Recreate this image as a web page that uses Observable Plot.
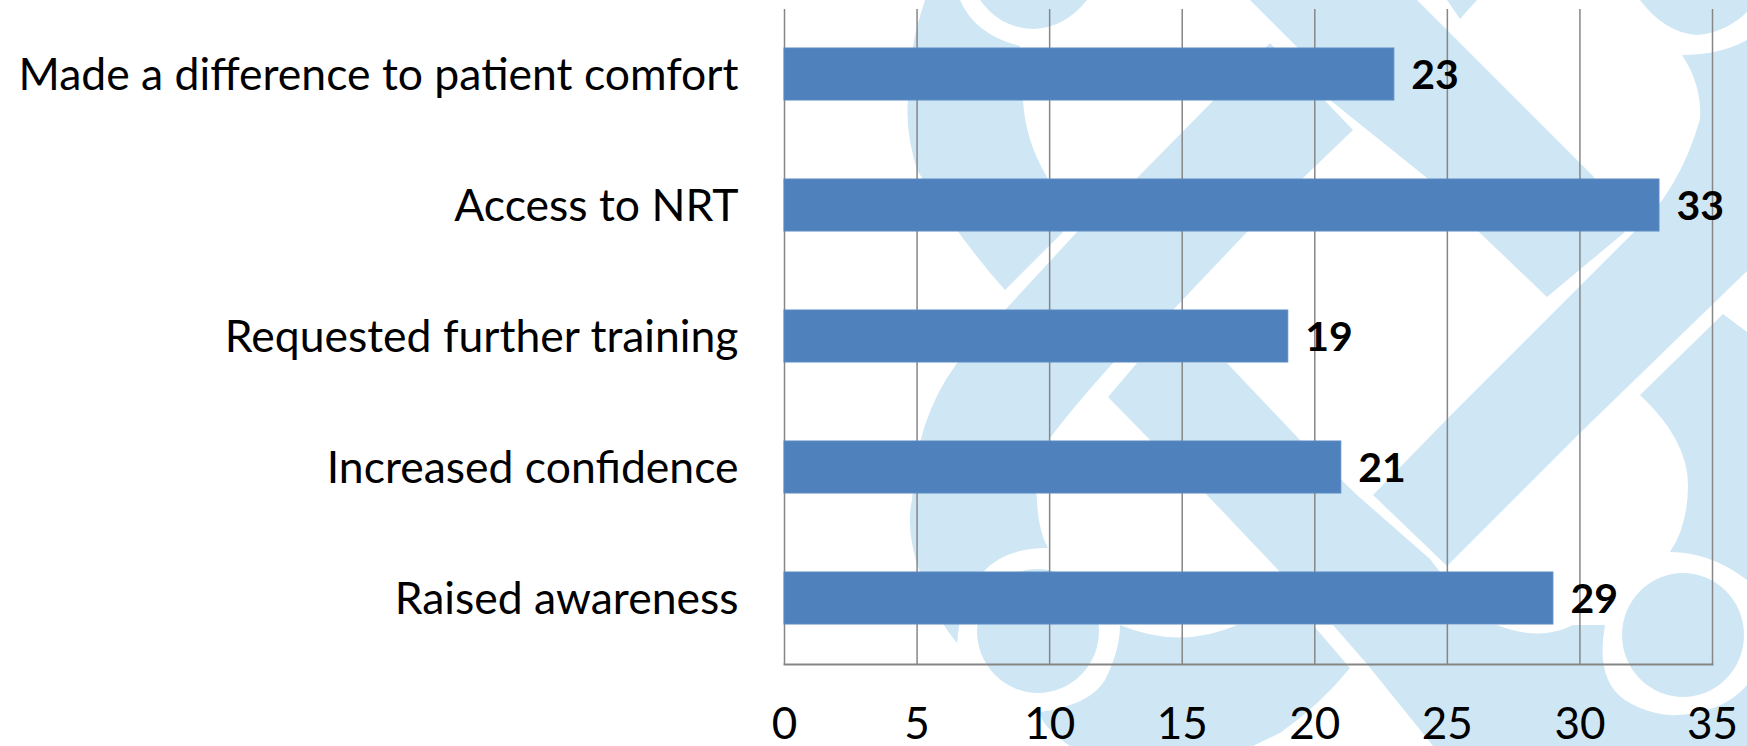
<!DOCTYPE html>
<html>
<head>
<meta charset="utf-8">
<script src="https://cdn.jsdelivr.net/npm/d3@7"></script>
<script src="https://cdn.jsdelivr.net/npm/@observablehq/plot@0.6"></script>
<style>
  html, body { margin: 0; padding: 0; background: #fff; overflow: hidden; }
  #stage { position: relative; width: 1747px; height: 746px; }
  #watermark, #chart { position: absolute; left: 0; top: 0; }
  #chart svg { display: block; background: transparent; }
</style>
</head>
<body>
<div id="stage">
  <!-- decorative background logo, not data -->
  <svg id="watermark" width="1747" height="746" viewBox="0 0 1747 746">
    <g fill="#cfe7f5">
      <path d="M925,0 L960,0 Q975,35 1020,46 L1023,100 Q1025,140 1047,177 L1063,232 L1005,290 Q960,240 917,170 Q905,130 908,100 Q908,50 925,0Z"/>
      <path d="M980,0 Q1000,28 1033,29 Q1065,28 1087,0Z"/>
      <path d="M1270,43 L1353,130 L1247,232 L1173,310 L1113,363 Q1075,405 1050,438 Q1032,470 1037,500 Q1038,530 1048,548 Q1005,548 983,572 Q960,600 957,643 Q930,610 920,573 Q905,530 912,500 Q915,420 957,363 L1005,310 L1077,232 L1137,178Z"/>
      <path d="M1250,0 L1417,0 L1593,176 L1625,232 L1547,297 L1480,233 L1427,178 L1330,100 L1297,47Z"/>
      <path d="M1447,0 L1477,0 L1460,19Z"/>
      <path d="M1640,0 Q1665,33 1697,35 Q1725,33 1747,12 L1747,0Z"/>
      <path d="M1633,233 Q1680,190 1700,119 Q1702,85 1682,55 Q1720,55 1747,40 L1747,271 L1580,433 L1447,566 L1373,495 L1447,419Z"/>
      <path d="M1723,314 L1747,332 L1747,580 Q1710,552 1670,552 Q1688,525 1688,485 Q1688,440 1640,395Z"/>
      <path d="M1108,397 L1137,363 L1227,363 L1300,440 L1357,495 L1430,559 L1440,572 L1280,572 L1207,495 L1150,440Z"/>
      <path d="M1120,625 Q1180,650 1237,625 L1313,625 L1350,668 Q1320,705 1280,733 L1253,746 L1070,746 Q1040,725 1040,712 Q1090,705 1105,680 Q1120,650 1120,625Z"/>
      <path d="M1333,625 L1497,625 Q1540,642 1573,625 L1605,625 Q1595,680 1625,700 Q1660,722 1700,712 Q1730,705 1747,685 L1747,746 L1433,746 L1367,664Z"/>
      <ellipse cx="1038" cy="631" rx="61" ry="62"/>
      <ellipse cx="1683" cy="635" rx="61" ry="62"/>
    </g>
  </svg>
  <div id="chart"></div>
</div>
<script>
const categories = ["Made a difference to patient comfort", "Access to NRT", "Requested further training", "Increased confidence", "Raised awareness"];
const counts = [23, 33, 19, 21, 29];
const xTicks = [0, 5, 10, 15, 20, 25, 30, 35];
const rows = categories.map((name, i) => ({name, count: counts[i]}));

const chart = Plot.plot({
  width: 1747,
  height: 746,
  marginLeft: 784,
  marginRight: 35,
  marginTop: 9,
  marginBottom: 82,
  style: {fontFamily: "Lato, Carlito, sans-serif", color: "#000", background: "transparent", overflow: "visible"},
  x: {domain: [0, 35], ticks: xTicks},
  y: {domain: categories, paddingInner: 0.6, paddingOuter: 0.3},
  marks: [
    Plot.ruleX(xTicks, {stroke: "#868686", strokeWidth: 1.5}),
    Plot.frame({anchor: "bottom", stroke: "#868686", strokeWidth: 2}),
    Plot.barX(rows, {y: "name", x: "count", fill: "#4f81bd", stroke: "#5b8ac2", strokeWidth: 1}),
    Plot.text(rows, {y: "name", x: "count", text: d => String(d.count), textAnchor: "start", dx: 17, dy: 1, fontSize: 41, fontWeight: 700, fill: "#000"}),
    Plot.axisY({anchor: "left", tickSize: 0, tickPadding: 46, fontSize: 44.5, dy: 1, label: null, tickFormat: d => d, fill: "#000"}),
    Plot.axisX(xTicks, {anchor: "bottom", tickSize: 0, tickPadding: 43, fontSize: 44, label: null, fill: "#000"})
  ]
});
document.getElementById("chart").appendChild(chart);
</script>
</body>
</html>
